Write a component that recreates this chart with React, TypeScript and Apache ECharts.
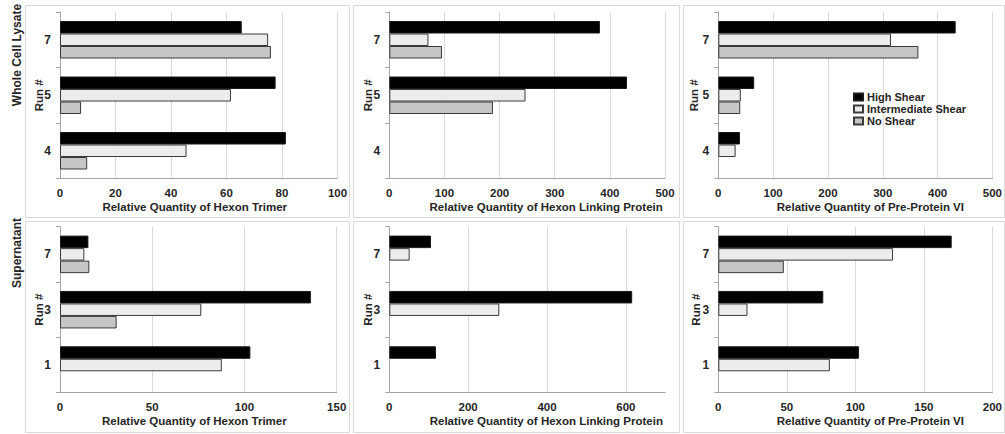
import React, { useEffect, useRef } from "react";
import * as echarts from "echarts";

const seriesNames = ["High Shear", "Intermediate Shear", "No Shear"];
const runsTop = ["4", "5", "7"];
const runsBottom = ["1", "3", "7"];

const axisTitles = [
  "Relative Quantity of Hexon Trimer",
  "Relative Quantity of Hexon Linking Protein",
  "Relative Quantity of Pre-Protein VI",
];
const rowTitles = ["Whole Cell Lysate", "Supernatant"];

// Whole cell lysate (runs 4, 5, 7)
const wclHexonHigh = [81.4, 77.7, 65.5];
const wclHexonInter = [45.6, 61.6, 75];
const wclHexonNone = [9.8, 7.6, 76];

const wclLinkHigh = [null, 431, 382];
const wclLinkInter = [null, 247, 71];
const wclLinkNone = [null, 188, 95.5];

const wclPreHigh = [39.5, 65.5, 433];
const wclPreInter = [31.6, 41, 315];
const wclPreNone = [null, 40, 365];

// Supernatant (runs 1, 3, 7)
const supHexonHigh = [103.2, 136, 15.4];
const supHexonInter = [87.7, 76.6, 13.2];
const supHexonNone = [null, 30.7, 15.9];

const supLinkHigh = [118.4, 616, 105.7];
const supLinkInter = [null, 279, 51.7];
const supLinkNone = [null, null, null];

const supPreHigh = [102.7, 76.6, 170.3];
const supPreInter = [81.4, 21.3, 127.5];
const supPreNone = [null, null, 47.8];

const axisMax = [100, 500, 500, 150, 700, 200];
const axisInterval = [20, 100, 100, 50, 200, 50];

const panelValues = [
  [wclHexonHigh, wclHexonInter, wclHexonNone],
  [wclLinkHigh, wclLinkInter, wclLinkNone],
  [wclPreHigh, wclPreInter, wclPreNone],
  [supHexonHigh, supHexonInter, supHexonNone],
  [supLinkHigh, supLinkInter, supLinkNone],
  [supPreHigh, supPreInter, supPreNone],
];

const FONT = "'Liberation Sans', Arial, sans-serif";
const TXT = "#262626";

export default function App() {
  const ref = useRef<HTMLDivElement>(null);

  useEffect(() => {
    if (!ref.current) return;
    const chart = echarts.init(ref.current, undefined, { renderer: "svg" });

    const gridPos = [
      { left: 60, top: 12, width: 277.5, height: 166.5 },
      { left: 389.3, top: 12, width: 275.7, height: 166.5 },
      { left: 718.3, top: 12, width: 275, height: 166.5 },
      { left: 60, top: 226.7, width: 276.7, height: 166 },
      { left: 389.3, top: 226.7, width: 276, height: 166 },
      { left: 718.3, top: 226.7, width: 276, height: 166 },
    ];
    const titleShift = [-8, 38, 30, -8, 38, 30];
    const runNameGap = [15, 15.5, 18.5, 15, 15.5, 16.5];

    const fills = ["#000000", "#ececec", "#c6c6c6"];
    const borders = ["#1a1a1a", "#3a3a3a", "#3a3a3a"];

    const grid: any[] = [];
    const xAxis: any[] = [];
    const yAxis: any[] = [];
    const series: any[] = [];

    for (let i = 0; i < 6; i++) {
      const g = gridPos[i];
      grid.push({ left: g.left, top: g.top, width: g.width, height: g.height, containLabel: false });
      const hideMax = i === 4;
      xAxis.push({
        gridIndex: i,
        type: "value",
        min: 0,
        max: axisMax[i],
        interval: axisInterval[i],
        name: axisTitles[i % 3],
        nameLocation: "middle",
        nameGap: 22,
        nameMoveOverlap: false,
        nameTextStyle: {
          fontFamily: FONT,
          fontWeight: "bold",
          fontSize: 11.5,
          color: TXT,
          padding: titleShift[i] > 0 ? [0, 0, 0, titleShift[i]] : [0, -titleShift[i], 0, 0],
        },
        axisLine: { show: true, lineStyle: { color: "#a6a6a6", width: 1 } },
        axisTick: { show: false },
        axisLabel: {
          fontFamily: FONT,
          fontWeight: "bold",
          fontSize: 11.5,
          color: TXT,
          margin: 8,
          showMaxLabel: !hideMax,
        },
        splitLine: {
          show: true,
          showMinLine: false,
          showMaxLine: !hideMax,
          lineStyle: { color: "#d9d9d9", width: 1 },
        },
      });
      yAxis.push({
        gridIndex: i,
        type: "category",
        data: i < 3 ? runsTop : runsBottom,
        name: "Run #",
        nameLocation: "middle",
        nameRotate: 90,
        nameGap: runNameGap[i],
        nameMoveOverlap: false,
        nameTextStyle: { fontFamily: FONT, fontWeight: "bold", fontSize: 11.5, color: TXT },
        axisLine: { show: true, lineStyle: { color: "#a6a6a6", width: 1 } },
        axisTick: { show: true, length: 4, lineStyle: { color: "#a6a6a6" } },
        axisLabel: { fontFamily: FONT, fontWeight: "bold", fontSize: 12, color: TXT, margin: 9 },
        splitLine: { show: false },
      });
      for (let s = 0; s < 3; s++) {
        series.push({
          type: "bar",
          name: seriesNames[s],
          xAxisIndex: i,
          yAxisIndex: i,
          data: panelValues[i][s],
          barWidth: 12.5,
          barGap: "0%",
          itemStyle: { color: fills[s], borderColor: borders[s], borderWidth: 1 },
          emphasis: { disabled: true },
        });
      }
    }

    const panelRects = [
      { x: 25, y: 5, w: 324, h: 212 },
      { x: 353, y: 5, w: 326, h: 212 },
      { x: 683, y: 5, w: 321, h: 212 },
      { x: 25, y: 221, w: 324, h: 211 },
      { x: 353, y: 221, w: 326, h: 211 },
      { x: 683, y: 221, w: 321, h: 211 },
    ];

    const graphic: any[] = panelRects.map((r) => ({
      type: "rect",
      shape: { x: r.x + 0.5, y: r.y + 0.5, width: r.w, height: r.h },
      style: { fill: "none", stroke: "#d9d9d9", lineWidth: 1 },
      z: -10,
      silent: true,
    }));
    graphic.push({
      type: "text",
      x: 17,
      y: 55,
      rotation: Math.PI / 2,
      style: {
        text: rowTitles[0],
        fontFamily: FONT,
        fontWeight: "bold",
        fontSize: 12,
        fill: TXT,
        align: "center",
        verticalAlign: "middle",
      },
    });
    graphic.push({
      type: "text",
      x: 17,
      y: 253,
      rotation: Math.PI / 2,
      style: {
        text: rowTitles[1],
        fontFamily: FONT,
        fontWeight: "bold",
        fontSize: 12,
        fill: TXT,
        align: "center",
        verticalAlign: "middle",
      },
    });

    chart.setOption({
      animation: false,
      backgroundColor: "#ffffff",
      grid,
      xAxis,
      yAxis,
      series,
      graphic,
      legend: {
        data: seriesNames,
        orient: "vertical",
        left: 853,
        top: 91,
        padding: 0,
        itemWidth: 9,
        itemHeight: 7,
        itemGap: 0,
        icon: "rect",
        selectedMode: false,
        textStyle: {
          fontFamily: FONT,
          fontWeight: "bold",
          fontSize: 11,
          lineHeight: 12,
          color: TXT,
          padding: [0, 0, 0, -1],
        },
      },
    });

    return () => chart.dispose();
  }, []);

  return (
    <div
      ref={ref}
      style={{ position: "fixed", left: 0, top: 0, width: 1005, height: 434 }}
    />
  );
}
